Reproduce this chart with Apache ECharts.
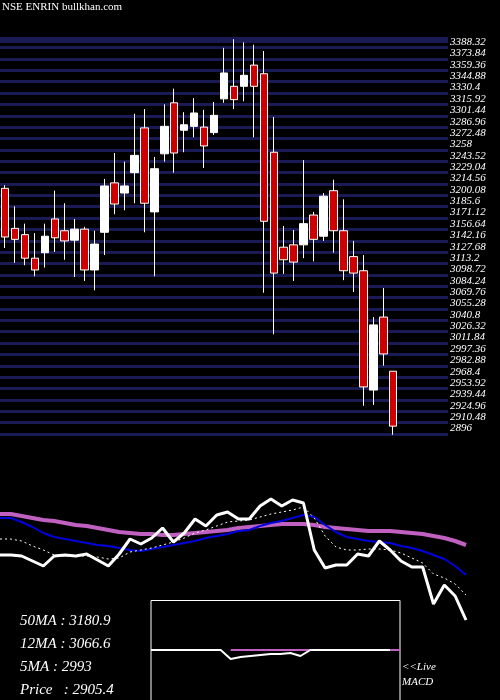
<!DOCTYPE html>
<html>
<head>
<meta charset="utf-8">
<script src="https://cdn.jsdelivr.net/npm/echarts@6/dist/echarts.min.js"></script>
<style>
html, body { margin: 0; padding: 0; background: #000; }
#chart { width: 500px; height: 700px; }
</style>
</head>
<body>
<div id="chart"></div>
<script>
// candles: [open, close, low, high]
var candles = [
	[3209, 3147, 3133, 3213], [3158, 3144, 3114, 3186], [3150, 3120, 3111, 3164], [3120, 3105, 3097, 3152],
	[3127, 3148, 3108, 3164], [3170, 3146, 3128, 3206], [3155, 3142, 3118, 3190], [3143, 3157, 3096, 3170],
	[3157, 3105, 3091, 3160], [3105, 3138, 3079, 3155], [3153, 3212, 3124, 3221], [3216, 3189, 3176, 3254],
	[3203, 3212, 3181, 3243], [3229, 3251, 3190, 3304], [3286, 3190, 3153, 3310], [3179, 3234, 3097, 3249],
	[3253, 3288, 3243, 3316], [3318, 3254, 3229, 3336], [3283, 3290, 3255, 3306], [3288, 3305, 3274, 3324],
	[3287, 3263, 3235, 3309], [3280, 3302, 3277, 3319], [3323, 3356, 3318, 3388], [3339, 3322, 3310, 3399],
	[3339, 3353, 3320, 3395], [3366, 3339, 3274, 3392], [3355, 3167, 3076, 3384], [3255, 3101, 3023, 3300],
	[3134, 3118, 3100, 3161], [3137, 3115, 3091, 3156], [3137, 3164, 3120, 3245], [3175, 3144, 3116, 3179],
	[3148, 3199, 3142, 3203], [3206, 3155, 3127, 3220], [3155, 3104, 3092, 3195], [3122, 3101, 3077, 3142],
	[3104, 2956, 2932, 3124], [2952, 3035, 2933, 3045], [3045, 2998, 2983, 3082], [2976, 2906, 2895, 2976]
];
var priceMin = 2896;
var priceMax = 3398;
var priceStep = 14.48;

// lower panel lines (panel units, larger = lower on screen)
var priceLine = [555, 555, 556, 561, 566, 556, 555, 556, 554, 560, 566, 554, 539, 544, 538, 528, 542, 533, 519, 526, 515, 512,
	519, 519, 506, 499, 506, 500, 503, 550, 568, 565, 565, 554, 556, 541, 550, 561, 567, 567, 604, 585, 596, 620];
var ma5 = [539, 539, 541, 546, 550, 555, 556, 556, 556, 557, 559, 558, 552, 550, 548, 545, 542, 538, 533, 530, 526, 522,
	521, 520, 517, 514, 512, 510, 507, 518, 536, 547, 550, 550, 549, 549, 550, 553, 558, 563, 574, 578, 584, 595];
var ma12 = [518, 518, 522, 527, 533, 537, 539, 541, 543, 545, 546, 548, 550, 551, 549, 547, 545, 543, 541, 538, 536, 534,
	531, 530, 526, 523, 521, 518, 515, 517, 525, 532, 537, 539, 541, 542, 543, 546, 548, 551, 555, 559, 566, 575];
var ma50 = [514, 514, 516, 518, 520, 521, 523, 525, 526, 528, 530, 532, 533, 534, 534, 535, 535, 534, 533, 532, 531, 530,
	528, 527, 526, 525, 524, 524, 524, 525, 527, 528, 529, 530, 531, 531, 531, 532, 533, 534, 536, 538, 541, 545];

// MACD box
var macdLine = [0, 0, 0, 0, 0, 0, 0, 0, -9, -7, -6, -5, -4, -4, -3, -6, 0, 0, 0, 0, 0, 0, 0, 0, 0, null];
var macdSignal = [null, null, null, null, null, null, null, null, 0, 0, 0, 0, 0, 0, 0, 0, 0, null, null, null, null, null, null, null, 0, 0];

var legendText = ['50MA : 3180.9', '12MA : 3066.6', '5MA : 2993', 'Price   : 2905.4'];

var idx = function(n) { var a = []; for (var i = 0; i < n; i++) a.push(i); return a; };
var serif = 'Liberation Serif';

var chart = echarts.init(document.getElementById('chart'));
var option = {
	backgroundColor: '#000',
	animation: false,
	grid: [
		{ left: -2, width: 450, top: 40, height: 394 },
		{ left: 0, width: 466, top: 490, height: 140 },
		{ left: 151, width: 249, top: 601, height: 99 }
	],
	xAxis: [
		{ gridIndex: 0, type: 'category', data: idx(45), show: false },
		{ gridIndex: 1, type: 'category', data: idx(44), boundaryGap: false, show: false },
		{ gridIndex: 2, type: 'category', data: idx(26), boundaryGap: false, show: false }
	],
	yAxis: [
		{
			gridIndex: 0, type: 'value', min: priceMin, max: priceMax, interval: priceStep, position: 'right',
			axisLine: { show: false }, axisTick: { show: false },
			splitLine: { show: true, lineStyle: { color: '#1a1a55', width: 3 } },
			axisLabel: {
				color: '#fff', fontFamily: serif, fontStyle: 'italic', fontSize: 11, margin: 2, verticalAlign: 'bottom',
				formatter: function(v) { return String(Math.round(v * 100) / 100); }
			}
		},
		{ gridIndex: 1, type: 'value', inverse: true, min: 490, max: 630, show: false },
		{ gridIndex: 2, type: 'value', min: -50, max: 49, show: false }
	],
	series: [
		{
			type: 'candlestick', xAxisIndex: 0, yAxisIndex: 0, data: candles, barWidth: 8,
			itemStyle: { color: '#ffffff', color0: '#cc0000', borderColor: '#ffffff', borderColor0: '#ffffff', borderWidth: 1 }
		},
		{ type: 'line', xAxisIndex: 1, yAxisIndex: 1, data: ma50, symbol: 'none', lineStyle: { color: '#c060c0', width: 4 } },
		{ type: 'line', xAxisIndex: 1, yAxisIndex: 1, data: ma12, symbol: 'none', lineStyle: { color: '#0000dd', width: 2 } },
		{ type: 'line', xAxisIndex: 1, yAxisIndex: 1, data: ma5, symbol: 'none', lineStyle: { color: '#ffffff', width: 1, type: [2, 3] } },
		{ type: 'line', xAxisIndex: 1, yAxisIndex: 1, data: priceLine, symbol: 'none', lineStyle: { color: '#ffffff', width: 3 } },
		{ type: 'line', xAxisIndex: 2, yAxisIndex: 2, data: macdSignal, symbol: 'none', lineStyle: { color: '#c060c0', width: 2 } },
		{ type: 'line', xAxisIndex: 2, yAxisIndex: 2, data: macdLine, symbol: 'none', lineStyle: { color: '#ffffff', width: 2 } }
	],
	graphic: [
		{ type: 'rect', z: -1, shape: { x: 0, y: 37, width: 448, height: 6 }, style: { fill: '#1a1a55' } },
		{ type: 'text', left: 2, top: 2, style: { text: 'NSE ENRIN bullkhan.com', fill: '#fff', font: '11px "Liberation Serif"' } },
		{ type: 'rect', shape: { x: 151, y: 600.5, width: 249, height: 110 }, style: { fill: null, stroke: '#fff', lineWidth: 1 } },
		{ type: 'text', left: 20, top: 614, style: { text: legendText[0], fill: '#fff', font: 'italic 15px "Liberation Serif"' } },
		{ type: 'text', left: 20, top: 637, style: { text: legendText[1], fill: '#fff', font: 'italic 15px "Liberation Serif"' } },
		{ type: 'text', left: 20, top: 660, style: { text: legendText[2], fill: '#fff', font: 'italic 15px "Liberation Serif"' } },
		{ type: 'text', left: 20, top: 683, style: { text: legendText[3], fill: '#fff', font: 'italic 15px "Liberation Serif"' } },
		{ type: 'text', left: 402, top: 660, style: { text: '<<Live\nMACD', fill: '#fff', font: 'italic 11px "Liberation Serif"', lineHeight: 15 } }
	]
};
chart.setOption(option);
</script>
</body>
</html>
